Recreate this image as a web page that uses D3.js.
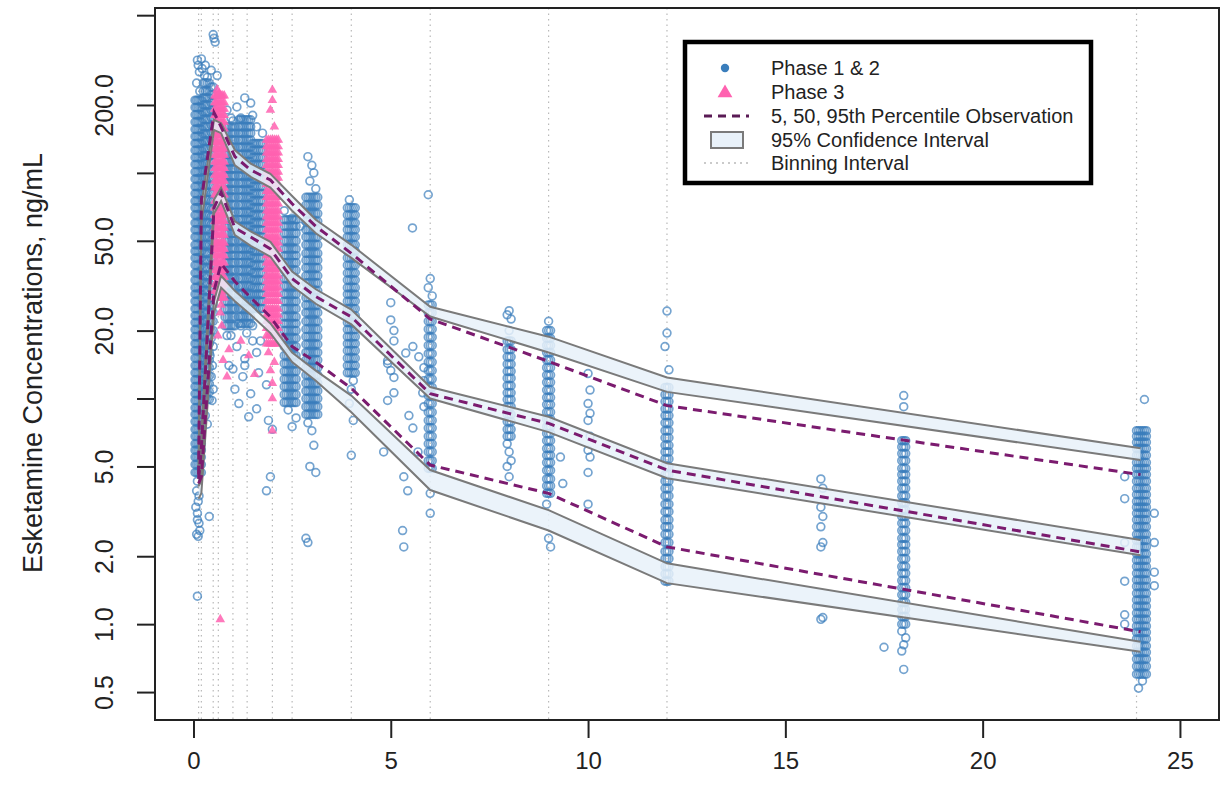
<!DOCTYPE html>
<html><head><meta charset="utf-8">
<script src="https://cdn.jsdelivr.net/npm/d3@7"></script>
<style>body{margin:0;background:#fff}svg{display:block}</style>
</head><body>
<svg id="chart" width="1225" height="787"></svg>
<script>
// ---------------- DATA ----------------
const binEdges = [0.13, 0.2, 0.5, 0.63, 1.0, 1.36, 2.0, 2.5, 4.0, 6.0, 9.0, 12.0, 23.9];
const yTicks = [0.5, 1, 2, 5, 10, 20, 50, 100, 200, 500];
const yTickLabels = ["0.5", "1.0", "2.0", "5.0", "", "20.0", "50.0", "", "200.0", ""];
const xTicks = [0, 5, 10, 15, 20, 25];

const vpcTime = [0.13, 0.2, 0.52, 0.7, 1.05, 1.45, 1.95, 2.5, 3.1, 4.0, 6.0, 9.0, 12.0, 24.0];
const p95   = [4.6, 76, 185, 160, 118, 103, 93, 73, 58, 44, 22.5, 14.6, 9.3, 4.6];
const p95Lo = [4.4, 60, 155, 150, 108, 96, 86, 68, 54, 42, 23.1, 16.0, 10.7, 5.34];
const p95Hi = [5.0, 72, 172, 166, 126, 110, 99, 79, 62, 48, 25.5, 18.8, 12.4, 6.02];
const p50   = [4.4, 6.0, 70, 82, 57, 52, 46, 34, 28.3, 23, 10.5, 7.76, 4.82, 2.09];
const p50Lo = [4.0, 5.5, 66, 75, 53, 47.5, 42.5, 31.5, 26.3, 21.3, 10.0, 7.1, 4.43, 2.02];
const p50Hi = [4.8, 7.0, 76, 86, 61, 55, 49.5, 36.5, 30.5, 24.8, 11.25, 8.3, 5.17, 2.36];
const p05   = [4.2, 4.5, 30, 39.7, 33, 28, 23, 17, 14.5, 11.1, 5.07, 3.8, 2.2, 0.925];
const p05Lo = [3.6, 3.8, 24, 31, 27, 23.5, 19.5, 14.5, 12, 8.7, 3.93, 2.6, 1.52, 0.755];
const p05Hi = [4.1, 4.3, 27, 35, 30, 26, 21.5, 16, 13.3, 10.3, 4.82, 3.2, 1.86, 0.835];

// Phase 1 & 2, densely sampled clusters: every listed concentration observed at each listed time
const phase12Dense = [
  {t:[0.04,0.08,0.12,0.16,0.2], c:[210,195,181,168,156,145,135,126,117,109,101,94,87,81,75,70,65,60,56,52,48,45,42,39,36,33.5,31,29,27,25,23.3,21.7,20.2,18.8,17.5,16.3,15.1,14,13,12.1,11.3,10.5,9.8,9.1,8.5,7.9,7.3,6.8,6.3,5.9,5.5,5.1,4.7]},
  {t:[0.25,0.3,0.35,0.4], c:[250,230,215,200,186,173,160,149,138,128,119,110,102,95,88,82,76,70,65,60,56,52,48,44,41,38,35,32.5,30,28,26,24,22,20.5,19,17.5,16,14.8,13.7,12.6,11.6,10.7,9.9]},
  {t:[0.45,0.5], c:[240,222,205,190,176,163,151,140,130,120,111,103,95,88,81,75,69,64,59,54,50,46,42,39,36,33,30.5,28,26,24,22,20]},
  {t:[0.8,0.85,0.9,0.95,1.0,1.05], c:[160,150,140,130,121,112,104,97,90,84,78,72,67,62,58,54,50,46,43,40,37,34,31.5,29,27,25,23,21]},
  {t:[1.15,1.2,1.25,1.3,1.35,1.4,1.45], c:[172,160,150,140,130,121,112,104,97,90,84,78,72,67,62,58,54,50,46,43,40,37,34,31.5,29,27,25,23,21.5]},
  {t:[1.5,1.55,1.6,1.65,1.7,1.75], c:[135,126,117,109,101,94,87,81,75,70,65,60,56,52,48,45,42,39,36,33.5,31,29,27,25]},
  {t:[2.3,2.35,2.4,2.45,2.5,2.55,2.6], c:[62,58,54,50,46,43,40,37,34,31.5,29,27,25,23,21.5,20,18.5,17,15.5,14.3,13.2,12.2,11.3,10.4,9.6]},
  {t:[2.85,2.9,2.95,3.0,3.05,3.1,3.15], c:[78,72,66,61,56,52,48,44,41,38,35,32.5,30,28,26,24,22,20.3,18.8,17.4,16,14.8,13.7,12.7,11.7,10.8,10,9.2,8.5]},
  {t:[3.9,3.95,4.0,4.05,4.1], c:[70,65,60,56,52,48,45,42,39,36,33.5,31,29,27,25,23.3,21.7,20.2,18.8,17.5,16.3,15.1,14,13]},
  {t:[5.95,6.0,6.05], c:[26,24,22,20.3,18.7,17.2,15.8,14.5,13.3,12.2,11.2,10.3,9.5,8.7,8,7.4,6.8,6.3,5.8,5.3,4.9]},
  {t:[7.95,8.0,8.05], c:[18,16.5,15.3,14.2,13.2,12.3,11.4,10.6,9.9,9.2,8.5,7.9,7.3,6.8]},
  {t:[8.95,9.0,9.05], c:[20,18.5,17.2,16,14.8,13.7,12.7,11.8,10.9,10.1,9.4,8.7,8.1,7.5,7,6.5,6,5.6,5.2,4.8,4.4,4.1,3.8]},
  {t:[11.95,12.0,12.05], c:[11.2,10.4,9.7,9.0,8.4,7.8,7.2,6.7,6.2,5.8,5.4,5.0,4.6,4.3,4.0,3.7,3.4,3.15,2.9,2.7,2.5,2.3,2.1,1.95,1.8,1.67,1.55]},
  {t:[17.95,18.0,18.05], c:[6.5,6.1,5.7,5.3,4.9,4.6,4.3,4.0,3.7,3.45,3.2,3.0,2.8,2.6,2.4,2.25,2.1,1.95,1.8,1.68,1.56,1.45,1.35,1.25,1.16,1.08,1.0]},
  {t:[23.9,23.95,24.0,24.05,24.1,24.15], c:[7.2,6.8,6.4,6.0,5.6,5.2,4.9,4.6,4.3,4.0,3.75,3.5,3.3,3.1,2.9,2.7,2.5,2.35,2.2,2.05,1.92,1.8,1.68,1.57,1.47,1.37,1.28,1.2,1.12,1.05,0.98,0.92,0.86,0.8,0.75,0.7,0.65,0.6]}
];

// Phase 1 & 2, individually read observations (time, concentration)
const phase12Time = [0.5,0.52,0.55,0.1,0.12,0.15,0.2,0.3,0.45,0.6,0.22,0.28,0.08,0.16,0.35,
  0.1,0.08,0.12,0.1,0.14,0.08,0.12,0.1,0.16,0.1,0.06,0.14,0.25,0.3,0.35,0.45,0.5,0.42,0.48,0.45,0.5,0.47,
  1.1,1.45,1.3,1.6,1.75,0.85,0.95,1.0,1.2,1.5,
  0.95,1.1,1.3,1.5,1.7,1.05,1.25,1.45,1.65,1.85,0.9,1.15,1.4,1.6,1.9,1.95,1.85,2.0,0.4,2.9,0.85,1.0,1.2,1.35,1.5,1.6,1.3,
  2.3,2.5,2.7,2.4,2.6,2.5,
  2.9,3.0,3.05,2.95,3.1,2.9,3.0,3.05,2.95,3.1,2.85,
  3.95,4.05,4.0,3.95,4.05,4.0,
  5.55,5.0,5.0,5.08,5.08,4.92,4.92,5.0,5.08,5.08,4.92,4.82,5.33,5.43,5.56,5.46,5.56,5.38,5.71,5.84,5.84,5.81,5.84,5.69,5.3,5.33,
  5.95,6.0,5.95,6.05,6.0,6.0,
  8.0,7.95,8.05,8.0,7.95,8.0,8.05,7.95,8.0,
  9.0,8.95,9.0,9.05,
  10.0,10.05,10.0,10.05,10.0,10.05,10.0,10.05,10.0,9.3,9.36,10.0,
  12.0,12.0,11.95,12.05,
  15.9,15.95,15.9,15.95,15.9,15.95,15.9,15.95,15.9,
  18.0,18.0,17.95,18.05,18.0,17.95,18.0,17.5,
  24.1,24.35,24.35,24.35,24.35,23.6,23.6,23.6,23.6,23.6,23.6,24.05,23.95];
const phase12Conc = [410,395,380,316,300,280,320,300,285,270,290,270,250,230,265,
  4.3,3.9,3.5,3.1,2.8,2.5,2.45,1.33,2.6,2.9,3.3,3.7,9.1,8.4,7.7,18.5,17,15.5,14,12.5,11,9.8,
  196,204,215,160,150,190,175,170,175,180,
  19,17,15,21,18,11,12.5,10.5,13,11.5,14,9.5,8.3,9,8,4.5,3.9,7.3,3.0,2.3,19,13.5,21,19.5,18,16,14,
  68,63,58,8.9,8.2,7.5,
  118,108,100,92,85,7.8,7.2,6.2,5.0,4.7,2.4,
  76,12,11,9.5,8,5.6,
  57,26.6,22.3,20,18,14.3,14.7,13.3,12.4,10.6,9.8,5.8,4.5,3.9,7.4,8.4,17,15.9,15.3,13.7,12,10.6,9.2,5.8,2.6,2.2,
  80,34,31,28.5,3.8,3.1,
  24.5,23.5,22.5,20,6.3,5.8,5.3,5.0,4.5,
  22,3.4,2.4,2.2,
  12.9,10.9,9.5,8.6,8.0,6.8,5.9,5.5,4.7,5.5,4.2,3.4,
  24.4,19.5,17,13.4,
  4.4,4.0,3.3,3.0,2.7,2.3,2.2,1.07,1.05,
  10.3,9.2,0.93,0.87,0.81,0.76,0.63,0.79,
  9.9,3.1,2.3,1.7,1.48,4.5,3.6,2.3,1.55,1.1,1.0,0.56,0.52];

// Phase 3
const phase3Dense = [
  {t:[0.54,0.58,0.62,0.66,0.7,0.74,0.78], c:[220,205,192,180,168,157,147,137,128,120,112,105,98,92,86,80,75,70,65,61,57,53,49,46,43,40,37,34.5,32,30,28]},
  {t:[1.85,1.9,1.95,2.0,2.05,2.1,2.15], c:[140,131,123,115,108,101,95,89,83,78,73,68,64,60,56,52,49,46,43,40,37.5,35,33,31,29,27,25,23.5,22,20.5,19,17.5]}
];
const phase3Time = [0.6,0.65,0.7,0.68,0.72,0.62,0.9,0.75,0.85,0.68,2.0,2.0,1.95,2.05,1.9,2.05,1.95,2.0,1.55,1.4,1.2,2.0,2.0];
const phase3Conc = [234,225,26,24,21,19,16.5,14.8,12.5,1.05,233,210,190,160,16,14.5,13.3,11.7,12.8,15.5,18,10,7.2];

const legendLabels = ["Phase 1 & 2", "Phase 3", "5, 50, 95th Percentile Observation", "95% Confidence Interval", "Binning Interval"];

// ---------------- DRAW ----------------
const FONT = "'Liberation Sans', Arial, Helvetica, sans-serif";
const svg = d3.select("#chart");
const L = 155, R = 1219, T = 8, B = 720;
const x = d3.scaleLinear().domain([-0.975, 25.99]).range([L, R]);
const y = d3.scaleLog().domain([0.376, 538]).range([B, T]);

svg.append("defs").append("clipPath").attr("id", "clip")
  .append("rect").attr("x", L).attr("y", T).attr("width", R - L).attr("height", B - T);
const plot = svg.append("g").attr("clip-path", "url(#clip)");

// binning intervals
plot.append("g").selectAll("line").data(binEdges).join("line")
  .attr("x1", d => x(d)).attr("x2", d => x(d)).attr("y1", T).attr("y2", B)
  .attr("stroke", "#b9b9b9").attr("stroke-width", 1.2).attr("stroke-dasharray", "1.5,4");

function expand(groups, times, concs) {
  const out = [];
  groups.forEach(g => g.t.forEach(t => g.c.forEach(c => out.push({t, c}))));
  times.forEach((t, i) => out.push({t, c: concs[i]}));
  return out;
}
const pts12 = expand(phase12Dense, phase12Time, phase12Conc);
const pts3 = expand(phase3Dense, phase3Time, phase3Conc);

plot.append("g").selectAll("circle").data(pts12).join("circle")
  .attr("cx", d => x(d.t)).attr("cy", d => y(d.c)).attr("r", 3.9)
  .attr("fill", "none").attr("stroke", "#3a7ebc").attr("stroke-opacity", 0.7).attr("stroke-width", 1.7);

const tri = d3.symbol(d3.symbolTriangle).size(40);
plot.append("g").selectAll("path").data(pts3).join("path")
  .attr("transform", d => `translate(${x(d.t)},${y(d.c)})`).attr("d", tri)
  .attr("fill", "#ff62b0").attr("fill-opacity", 0.85);

// confidence bands
const bands = [[p95Lo, p95Hi], [p50Lo, p50Hi], [p05Lo, p05Hi]];
const area = d3.area().x(d => x(d[0])).y0(d => y(d[1])).y1(d => y(d[2]));
const line2 = d3.line().x(d => x(d[0])).y(d => y(d[1]));
bands.forEach(([lo, hi]) => {
  const rows = vpcTime.map((t, i) => [t, lo[i], hi[i]]);
  plot.append("path").attr("d", area(rows)).attr("fill", "#e8f1f9").attr("fill-opacity", 0.85);
  [lo, hi].forEach(arr => {
    plot.append("path").attr("d", line2(vpcTime.map((t, i) => [t, arr[i]])))
      .attr("fill", "none").attr("stroke", "#7a7a7a").attr("stroke-width", 2);
  });
});

// observed percentiles
[p95, p50, p05].forEach(arr => {
  plot.append("path").attr("d", line2(vpcTime.map((t, i) => [t, arr[i]])))
    .attr("fill", "none").attr("stroke", "#7b1b6f").attr("stroke-width", 3)
    .attr("stroke-dasharray", "9,6");
});

// box
svg.append("rect").attr("x", L).attr("y", T).attr("width", R - L).attr("height", B - T)
  .attr("fill", "none").attr("stroke", "#222").attr("stroke-width", 2);

// y axis
const yAxis = svg.append("g").attr("transform", `translate(${L},0)`)
  .call(d3.axisLeft(y).tickValues(yTicks).tickSize(18).tickFormat((d, i) => yTickLabels[i]));
yAxis.select(".domain").remove();
yAxis.selectAll("line").attr("stroke", "#222").attr("stroke-width", 2);
yAxis.selectAll("text").attr("x", null).attr("dy", null)
  .attr("transform", "translate(-42,0) rotate(-90)").attr("text-anchor", "middle")
  .attr("font-family", FONT).attr("font-size", 25).attr("fill", "#222");

// x axis
const xAxis = svg.append("g").attr("transform", `translate(0,${B})`)
  .call(d3.axisBottom(x).tickValues(xTicks).tickSize(18).tickFormat(d3.format("d")));
xAxis.select(".domain").remove();
xAxis.selectAll("line").attr("stroke", "#222").attr("stroke-width", 2);
xAxis.selectAll("text").attr("y", 49).attr("dy", null)
  .attr("font-family", FONT).attr("font-size", 24).attr("fill", "#222");

// y title
svg.append("text").attr("transform", "translate(42,363) rotate(-90)")
  .attr("text-anchor", "middle").attr("font-family", FONT).attr("font-size", 27).attr("fill", "#222")
  .text("Esketamine Concentrations, ng/mL");

// legend
const lg = svg.append("g");
lg.append("rect").attr("x", 685).attr("y", 42).attr("width", 406).attr("height", 141)
  .attr("fill", "#fff").attr("stroke", "#000").attr("stroke-width", 4.5);
const rowY = [68, 92, 116, 140, 163];
lg.append("circle").attr("cx", 725).attr("cy", rowY[0]).attr("r", 4.2).attr("fill", "#3a7ebc");
lg.append("path").attr("transform", `translate(725,${rowY[1] + 1})`)
  .attr("d", d3.symbol(d3.symbolTriangle).size(95)).attr("fill", "#ff62b0");
lg.append("line").attr("x1", 704).attr("x2", 749).attr("y1", rowY[2]).attr("y2", rowY[2])
  .attr("stroke", "#5a1a55").attr("stroke-width", 3).attr("stroke-dasharray", "8,6");
lg.append("rect").attr("x", 711).attr("y", rowY[3] - 8).attr("width", 32).attr("height", 16)
  .attr("fill", "#e8f1f9").attr("stroke", "#7a7a7a").attr("stroke-width", 2);
lg.append("line").attr("x1", 704).attr("x2", 752).attr("y1", rowY[4]).attr("y2", rowY[4])
  .attr("stroke", "#b9b9b9").attr("stroke-width", 1.5).attr("stroke-dasharray", "2,4");
lg.selectAll("text.lab").data(legendLabels).join("text").attr("class", "lab")
  .attr("x", 771).attr("y", (d, i) => rowY[i] + 7)
  .attr("font-family", FONT).attr("font-size", 20).attr("fill", "#222").text(d => d);
</script>
</body></html>
